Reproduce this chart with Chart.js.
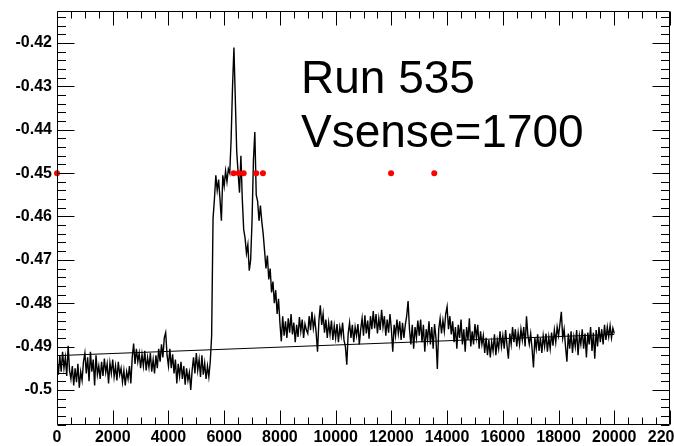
<!DOCTYPE html>
<html lang="en">
<head>
    <meta charset="UTF-8">
    <title>Run 535 - Vsense=1700</title>
    <script src="https://cdn.jsdelivr.net/npm/chart.js"></script>
    <style>
        body { margin: 0; background: #fff; }
        #wrap { width: 674px; height: 446px; }
    </style>
</head>
<body>
    <div id="wrap"><canvas id="traceChart" width="674" height="446"></canvas></div>

    <script>
        // waveform samples, one every sampleStep (time bins), starting at 0
        var sampleStep = 50;
        var signal = [
            -0.4930, -0.4965, -0.4920, -0.4958, -0.4912, -0.4950, -0.4925, -0.4968, -0.4898, -0.4955,
            -0.4975, -0.4945, -0.4990, -0.4950, -0.4982, -0.4940, -0.4995, -0.4958, -0.4978, -0.4935,
            -0.4915, -0.4962, -0.4925, -0.4980, -0.4912, -0.4958, -0.4930, -0.4990, -0.4920, -0.4965,
            -0.4945, -0.4975, -0.4935, -0.4968, -0.4928, -0.4960, -0.4940, -0.4985, -0.4938, -0.4962,
            -0.4930, -0.4970, -0.4945, -0.4978, -0.4935, -0.4965, -0.4950, -0.4982, -0.4955, -0.4990,
            -0.4958, -0.4975, -0.4945, -0.4985, -0.4925, -0.4893, -0.4940, -0.4905, -0.4935, -0.4915,
            -0.4950, -0.4918, -0.4945, -0.4910, -0.4955, -0.4925, -0.4948, -0.4915, -0.4958, -0.4930,
            -0.4962, -0.4920, -0.4950, -0.4905, -0.4935, -0.4895, -0.4925, -0.4880, -0.4868, -0.4920,
            -0.4945, -0.4905, -0.4950, -0.4918, -0.4962, -0.4930, -0.4985, -0.4940, -0.4968, -0.4935,
            -0.4975, -0.4945, -0.4988, -0.4950, -0.4978, -0.4960, -0.5000, -0.4955, -0.4925, -0.4962,
            -0.4915, -0.4955, -0.4930, -0.4970, -0.4920, -0.4965, -0.4938, -0.4975, -0.4945, -0.4970,
            -0.4935, -0.4875, -0.4605, -0.4560, -0.4505, -0.4540, -0.4515, -0.4560, -0.4610, -0.4505,
            -0.4530, -0.4495, -0.4520, -0.4490, -0.4500, -0.4420, -0.4300, -0.4210, -0.4330, -0.4450,
            -0.4500, -0.4545, -0.4460, -0.4560, -0.4630, -0.4650, -0.4685, -0.4665, -0.4725, -0.4700,
            -0.4610, -0.4470, -0.4405, -0.4550, -0.4565, -0.4610, -0.4575, -0.4612, -0.4640, -0.4680,
            -0.4720, -0.4690, -0.4745, -0.4720, -0.4775, -0.4750, -0.4800, -0.4770, -0.4825, -0.4790,
            -0.4845, -0.4888, -0.4830, -0.4875, -0.4842, -0.4880, -0.4835, -0.4868, -0.4825, -0.4872,
            -0.4845, -0.4890, -0.4850, -0.4878, -0.4832, -0.4865, -0.4838, -0.4880, -0.4848, -0.4862,
            -0.4870, -0.4830, -0.4862, -0.4820, -0.4858, -0.4835, -0.4868, -0.4912, -0.4840, -0.4805,
            -0.4850, -0.4825, -0.4868, -0.4838, -0.4880, -0.4845, -0.4872, -0.4840, -0.4885, -0.4852,
            -0.4880, -0.4848, -0.4890, -0.4855, -0.4875, -0.4845, -0.4885, -0.4900, -0.4942, -0.4870,
            -0.4845, -0.4880, -0.4850, -0.4890, -0.4855, -0.4875, -0.4848, -0.4895, -0.4860, -0.4835,
            -0.4875, -0.4828, -0.4870, -0.4840, -0.4882, -0.4830, -0.4860, -0.4818, -0.4858, -0.4825,
            -0.4870, -0.4835, -0.4862, -0.4815, -0.4855, -0.4830, -0.4875, -0.4838, -0.4868, -0.4825,
            -0.4860, -0.4912, -0.4850, -0.4875, -0.4838, -0.4870, -0.4842, -0.4885, -0.4845, -0.4880,
            -0.4850, -0.4830, -0.4795, -0.4860, -0.4895, -0.4850, -0.4905, -0.4855, -0.4880, -0.4840,
            -0.4875, -0.4838, -0.4890, -0.4850, -0.4912, -0.4860, -0.4885, -0.4842, -0.4895, -0.4855,
            -0.4905, -0.4848, -0.4880, -0.4952, -0.4860, -0.4835, -0.4870, -0.4840, -0.4865, -0.4825,
            -0.4808, -0.4860, -0.4830, -0.4872, -0.4842, -0.4890, -0.4855, -0.4905, -0.4850, -0.4880,
            -0.4838, -0.4895, -0.4860, -0.4912, -0.4855, -0.4885, -0.4835, -0.4900, -0.4865, -0.4895,
            -0.4848, -0.4880, -0.4850, -0.4905, -0.4865, -0.4895, -0.4875, -0.4915, -0.4880, -0.4920,
            -0.4885, -0.4925, -0.4890, -0.4910, -0.4872, -0.4920, -0.4885, -0.4905, -0.4865, -0.4900,
            -0.4875, -0.4905, -0.4862, -0.4898, -0.4928, -0.4870, -0.4895, -0.4855, -0.4890, -0.4860,
            -0.4900, -0.4868, -0.4895, -0.4860, -0.4885, -0.4855, -0.4900, -0.4830, -0.4875, -0.4895,
            -0.4870, -0.4905, -0.4948, -0.4880, -0.4905, -0.4872, -0.4910, -0.4880, -0.4915, -0.4875,
            -0.4900, -0.4870, -0.4912, -0.4878, -0.4905, -0.4868, -0.4898, -0.4862, -0.4890, -0.4855,
            -0.4875, -0.4848, -0.4820, -0.4880, -0.4860, -0.4900, -0.4935, -0.4870, -0.4905, -0.4865,
            -0.4915, -0.4878, -0.4900, -0.4862, -0.4920, -0.4875, -0.4895, -0.4860, -0.4905, -0.4870,
            -0.4925, -0.4868, -0.4895, -0.4855, -0.4910, -0.4868, -0.4928, -0.4862, -0.4900, -0.4855,
            -0.4890, -0.4860, -0.4895, -0.4850, -0.4885, -0.4855, -0.4878, -0.4852, -0.4880, -0.4858,
            -0.4870
        ];

        // straight-line fit over the run
        var fitX = [0, 20000];
        var fitY = [-0.4921, -0.4872];

        // found pulses (marked at the threshold level)
        var peakX = [0, 6340, 6520, 6700, 7150, 7390, 11990, 13540];
        var peakLevel = -0.45;

        var xTicks = [0, 2000, 4000, 6000, 8000, 10000, 12000, 14000, 16000, 18000, 20000, 22000];
        var yTicks = [-0.5, -0.49, -0.48, -0.47, -0.46, -0.45, -0.44, -0.43, -0.42];
        var xRange = [0, 22000];
        var yRange = [-0.5081, -0.4126];

        var labelLines = ['Run 535', 'Vsense=1700'];

        var tracePoints = signal.map(function (v, i) { return { x: i * sampleStep, y: v }; });
        var fitPoints = fitX.map(function (x, i) { return { x: x, y: fitY[i] }; });
        var peakPoints = peakX.map(function (x) { return { x: x, y: peakLevel }; });

        // ROOT-like frame: box around the plot with inward ticks on all four sides
        var framePlugin = {
            id: 'frame',
            afterDatasetsDraw: function (chart) {
                var ctx = chart.ctx, a = chart.chartArea;
                var xs = chart.scales.x, ys = chart.scales.y;
                var L = Math.round(a.left) + 0.5, R = Math.round(a.right) - 0.5;
                var T = Math.round(a.top) + 0.5, B = Math.round(a.bottom) - 0.5;
                ctx.save();
                ctx.strokeStyle = '#000';
                ctx.lineWidth = 1;
                ctx.beginPath();
                ctx.rect(L, T, R - L, B - T);
                for (var xv = 0; xv <= 22000; xv += 500) {
                    var px = Math.round(xs.getPixelForValue(xv)) + 0.5;
                    var len = (xv % 2000 === 0) ? 14 : 7;
                    ctx.moveTo(px, B); ctx.lineTo(px, B - len);
                    ctx.moveTo(px, T); ctx.lineTo(px, T + len);
                }
                for (var k = -254; k <= -207; k++) {
                    var yv = k * 0.002;
                    if (yv < yRange[0] || yv > yRange[1]) continue;
                    var py = Math.round(ys.getPixelForValue(yv)) + 0.5;
                    var ylen = (k % 5 === 0) ? 17 : 8.5;
                    ctx.moveTo(L, py); ctx.lineTo(L + ylen, py);
                    ctx.moveTo(R, py); ctx.lineTo(R - ylen, py);
                }
                ctx.stroke();

                ctx.fillStyle = '#000';
                ctx.font = '46px "Liberation Sans", Arial, sans-serif';
                ctx.textBaseline = 'alphabetic';
                ctx.textAlign = 'left';
                ctx.fillText(labelLines[0], 301, 93);
                ctx.fillText(labelLines[1], 301, 147);
                ctx.restore();
            }
        };

        var tickFont = { family: '"Liberation Sans", Arial, sans-serif', size: 16, weight: 'bold' };

        new Chart(document.getElementById('traceChart'), {
            type: 'scatter',
            data: {
                datasets: [
                    {
                        data: peakPoints,
                        pointRadius: 3,
                        pointBackgroundColor: '#ff0000',
                        pointBorderWidth: 0,
                        showLine: false,
                        clip: false,
                        order: 0
                    },
                    {
                        data: fitPoints,
                        showLine: true,
                        borderColor: '#000',
                        borderWidth: 1,
                        pointRadius: 0,
                        order: 1
                    },
                    {
                        data: tracePoints,
                        showLine: true,
                        borderColor: '#000',
                        borderWidth: 1.4,
                        pointRadius: 0,
                        tension: 0,
                        order: 2
                    }
                ]
            },
            options: {
                responsive: false,
                animation: false,
                layout: { padding: { top: 11, right: 3, left: 0, bottom: 0 } },
                plugins: { legend: { display: false }, tooltip: { enabled: false } },
                scales: {
                    x: {
                        type: 'linear',
                        min: xRange[0],
                        max: xRange[1],
                        grid: { display: false, drawTicks: false },
                        border: { display: false },
                        afterBuildTicks: function (s) { s.ticks = xTicks.map(function (v) { return { value: v }; }); },
                        afterFit: function (s) { s.height = 21; s.paddingLeft = 0; s.paddingRight = 0; },
                        ticks: {
                            autoSkip: false,
                            maxRotation: 0,
                            padding: 3,
                            color: '#000',
                            font: tickFont,
                            callback: function (v) { return String(v); }
                        }
                    },
                    y: {
                        type: 'linear',
                        min: yRange[0],
                        max: yRange[1],
                        grid: { display: false, drawTicks: false },
                        border: { display: false },
                        afterBuildTicks: function (s) { s.ticks = yTicks.map(function (v) { return { value: v }; }); },
                        afterFit: function (s) { s.width = 57; s.paddingTop = 0; s.paddingBottom = 0; },
                        ticks: {
                            autoSkip: false,
                            padding: 5,
                            color: '#000',
                            font: tickFont,
                            callback: function (v) { return String(Number(v.toFixed(2))); }
                        }
                    }
                }
            },
            plugins: [framePlugin]
        });
    </script>
</body>
</html>
